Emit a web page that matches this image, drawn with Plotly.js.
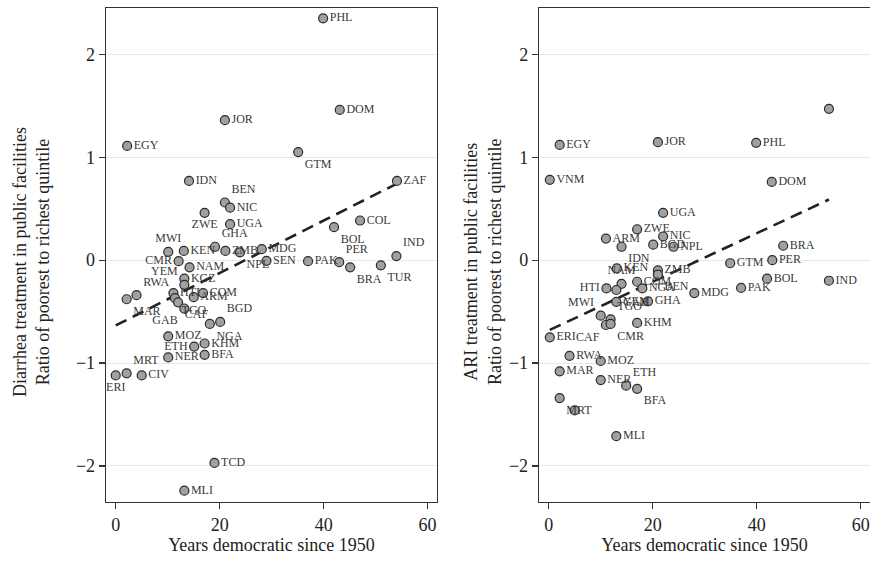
<!DOCTYPE html>
<html>
<head>
<meta charset="utf-8">
<script src="https://cdn.plot.ly/plotly-3.0.1.min.js"></script>
<style>html,body{margin:0;padding:0;background:#fff;}#chart{width:870px;height:564px;}</style>
</head>
<body>
<div id="chart"></div>
<script>
// ---- Left panel: Diarrhea treatment ----
const diarCodes = ["PHL","DOM","JOR","EGY","GTM","IDN","ZAF","BEN","NIC","ZWE","UGA","COL","BOL","MWI","KEN","GHA","ZMB","NPL","MDG","SEN","PAK","PER","BRA","TUR","IND","CMR","NAM","KGZ","YEM","RWA","MAR","HTI","TGO","CAF","GAB","ARM","COM","BGD","NGA","MOZ","ETH","KHM","NER","BFA","ERI","MRT","CIV","TCD","MLI"];
const diarYears = [39.9,43.1,21.0,2.2,35.1,14.1,54.1,21.0,22.0,17.1,22.0,47.0,42.0,10.1,13.1,19.1,21.1,23.9,28.1,29.0,37.0,43.0,45.1,51.0,54.0,12.1,14.2,13.2,13.2,4.0,2.1,11.1,11.4,12.0,13.2,15.0,16.8,20.1,18.1,10.1,15.1,17.1,10.1,17.1,0.0,2.1,5.0,19.0,13.2];
const diarRatio = [2.35,1.46,1.36,1.11,1.05,0.77,0.77,0.56,0.51,0.46,0.35,0.385,0.32,0.08,0.09,0.13,0.09,0.075,0.107,-0.007,-0.01,-0.02,-0.07,-0.05,0.04,-0.01,-0.07,-0.18,-0.24,-0.34,-0.38,-0.32,-0.37,-0.41,-0.47,-0.36,-0.32,-0.60,-0.62,-0.74,-0.84,-0.81,-0.945,-0.92,-1.12,-1.10,-1.12,-1.97,-2.24];
const diarLabelPos = ["middle right","middle right","middle right","middle right","bottom right","middle right","middle right","top right","middle right","bottom center","middle right","middle right","bottom right","top center","middle right","top right","middle right","bottom right","middle right","middle right","middle right","top right","bottom right","bottom right","top right","middle left","middle right","middle right","top left","top right","bottom right","middle right","bottom right","bottom right","bottom left","middle right","middle right","top right","bottom right","middle right","middle left","middle right","middle right","middle right","bottom center","top right","middle right","middle right","middle right"];

// ---- Right panel: ARI treatment ----
const ariCodes = ["","EGY","JOR","PHL","VNM","DOM","UGA","ZWE","ARM","NIC","IDN","BGD","NPL","BRA","PER","GTM","KEN","ZMB","BEN","BOL","IND","COM","NAM","HTI","GAB","PAK","NGA","MDG","YEM","GHA","MWI","TGO","CAF","CMR","KHM","ERI","RWA","MOZ","MAR","NER","ETH","BFA","MRT","","MLI"];
const ariYears = [53.9,2.1,21.0,39.9,0.2,42.9,22.0,17.0,11.0,22.0,14.0,20.1,24.0,45.1,43.0,34.9,13.1,21.0,21.0,42.0,53.9,17.0,14.0,11.1,13.0,37.0,18.0,28.0,13.0,19.1,10.0,11.9,11.0,11.9,17.0,0.2,4.0,10.0,2.1,10.0,14.9,17.0,2.1,5.0,13.0];
const ariRatio = [1.47,1.12,1.146,1.14,0.78,0.76,0.46,0.30,0.21,0.23,0.13,0.15,0.13,0.14,0.00,-0.03,-0.08,-0.10,-0.14,-0.18,-0.20,-0.21,-0.23,-0.275,-0.29,-0.27,-0.275,-0.32,-0.405,-0.40,-0.54,-0.575,-0.63,-0.62,-0.61,-0.75,-0.93,-0.98,-1.08,-1.165,-1.22,-1.25,-1.34,-1.46,-1.71];
const ariLabelPos = ["middle right","middle right","middle right","middle right","middle right","middle right","middle right","middle right","middle right","middle right","bottom right","middle right","middle right","middle right","middle right","middle right","middle right","middle right","bottom right","middle right","middle right","middle right","top center","middle left","bottom right","middle right","middle right","middle right","middle right","middle right","top left","top right","bottom left","bottom right","middle right","middle right","middle right","middle right","middle right","middle right","top right","bottom right","bottom right","middle right","middle right"];

const xTicks = [0,20,40,60];
const yTicks = [-2,-1,0,1,2];
const xTitle = "Years democratic since 1950";
const yTitleLeft = "Diarrhea treatment in public facilities<br>Ratio of poorest to richest quintile";
const yTitleRight = "ARI treatment in public facilities<br>Ratio of poorest to richest quintile";

function olsLine(xs, ys) {
  const n = xs.length;
  const mx = xs.reduce((a,b)=>a+b,0)/n, my = ys.reduce((a,b)=>a+b,0)/n;
  let sxy = 0, sxx = 0;
  for (let i=0;i<n;i++){ sxy += (xs[i]-mx)*(ys[i]-my); sxx += (xs[i]-mx)*(xs[i]-mx); }
  const b = sxy/sxx, a = my - b*mx;
  const x0 = Math.min(...xs), x1 = Math.max(...xs);
  return {x:[x0,x1], y:[a+b*x0, a+b*x1]};
}

const FONT = "Liberation Serif, Times New Roman, serif";
const markerStyle = {size:9, color:"#a0a0a0", line:{color:"#2b2b2b", width:1.2}};
const labelFont = {family:FONT, size:12, color:"#3a3a3a"};

const fitL = olsLine(diarYears, diarRatio);
const fitR = olsLine(ariYears, ariRatio);

const traces = [
  {type:"scatter", mode:"lines", x:fitL.x, y:fitL.y, xaxis:"x", yaxis:"y",
   line:{color:"#222", width:2.6, dash:"12px,7px"}, hoverinfo:"skip", showlegend:false},
  {type:"scatter", mode:"markers+text", x:diarYears, y:diarRatio, text:diarCodes,
   textposition:diarLabelPos, textfont:labelFont, marker:markerStyle, xaxis:"x", yaxis:"y",
   cliponaxis:false, showlegend:false},
  {type:"scatter", mode:"lines", x:fitR.x, y:fitR.y, xaxis:"x2", yaxis:"y2",
   line:{color:"#222", width:2.6, dash:"12px,7px"}, hoverinfo:"skip", showlegend:false},
  {type:"scatter", mode:"markers+text", x:ariYears, y:ariRatio, text:ariCodes,
   textposition:ariLabelPos, textfont:labelFont, marker:markerStyle, xaxis:"x2", yaxis:"y2",
   cliponaxis:false, showlegend:false}
];

const axisCommon = {
  showline:true, linecolor:"#333", linewidth:1.3, mirror:true,
  ticks:"outside", ticklen:6, tickcolor:"#333", tickwidth:1.2,
  tickfont:{family:FONT, size:18, color:"#222"},
  zeroline:false
};

const layout = {
  width:870, height:564,
  margin:{l:106, r:0, t:8, b:62},
  paper_bgcolor:"#fff", plot_bgcolor:"#fff",
  showlegend:false,
  font:{family:FONT, color:"#222"},
  xaxis: Object.assign({}, axisCommon, {domain:[0,0.4332], range:[-1.87,61.8], tickvals:xTicks, showgrid:false,
    title:{text:xTitle, font:{family:FONT, size:18, color:"#222"}, standoff:4}, anchor:"y"}),
  yaxis: Object.assign({}, axisCommon, {domain:[0,1], range:[-2.35,2.45], tickvals:yTicks, showgrid:true, gridcolor:"#e8e8e8", gridwidth:1, anchor:"x"}),
  xaxis2: Object.assign({}, axisCommon, {domain:[0.5668,1], range:[-1.87,61.8], tickvals:xTicks, showgrid:false,
    title:{text:xTitle, font:{family:FONT, size:18, color:"#222"}, standoff:4}, anchor:"y2"}),
  yaxis2: Object.assign({}, axisCommon, {domain:[0,1], range:[-2.35,2.45], tickvals:yTicks, showgrid:true, gridcolor:"#e8e8e8", gridwidth:1, anchor:"x2"}),
  annotations:[
    {text:yTitleLeft, xref:"paper", yref:"paper", x:-0.0969, y:0.486, xanchor:"center", yanchor:"middle",
     textangle:-90, showarrow:false, font:{family:FONT, size:18, color:"#222"}},
    {text:yTitleRight, xref:"paper", yref:"paper", x:0.4935, y:0.486, xanchor:"center", yanchor:"middle",
     textangle:-90, showarrow:false, font:{family:FONT, size:18, color:"#222"}}
  ]
};

Plotly.newPlot("chart", traces, layout, {displayModeBar:false, staticPlot:true});
</script>
</body>
</html>
